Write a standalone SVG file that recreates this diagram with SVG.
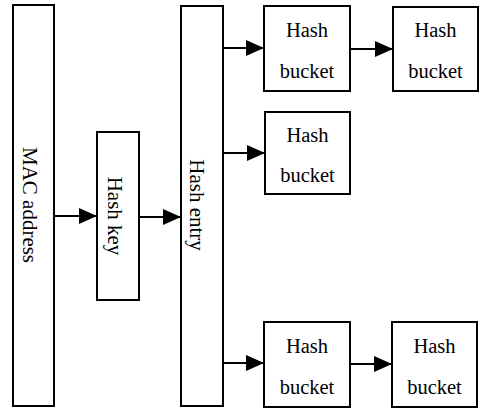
<svg xmlns="http://www.w3.org/2000/svg" width="482" height="411" viewBox="0 0 482 411">
<style>
.box{fill:#fff;stroke:#000;stroke-width:2}
.t{font-family:"Liberation Serif","Times New Roman",serif;font-size:21px;fill:#000;text-anchor:middle}
.b{font-family:"Liberation Serif","Times New Roman",serif;font-size:20.5px;fill:#000;text-anchor:middle}
.c{stroke:#000;stroke-width:2;fill:none;marker-end:url(#ah)}
</style>
<defs>
<marker id="ah" markerUnits="userSpaceOnUse" markerWidth="20" markerHeight="16" refX="18" refY="8" orient="auto">
<path d="M0,0 L18,8 L0,16 Z" fill="#000"/>
</marker>
</defs>
<rect width="482" height="411" fill="#fff"/>
<g id="mac">
<rect class="box" x="13" y="5" width="41" height="401"/>
<text class="t" transform="translate(23,205) rotate(90)">MAC address</text>
</g>
<g id="hashkey">
<rect class="box" x="97" y="132" width="42" height="168"/>
<text class="t" transform="translate(108,216) rotate(90)">Hash key</text>
</g>
<g id="hashentry">
<rect class="box" x="181" y="6" width="42" height="400"/>
<text class="t" transform="translate(190,205) rotate(90)">Hash entry</text>
</g>
<g id="bucket1">
<rect class="box" x="264" y="6" width="86" height="85"/>
<text class="b" x="307" y="37">Hash</text>
<text class="b" x="307" y="78">bucket</text>
</g>
<g id="bucket2">
<rect class="box" x="393" y="7" width="85" height="84"/>
<text class="b" x="435.5" y="37">Hash</text>
<text class="b" x="435.5" y="78">bucket</text>
</g>
<g id="bucket3">
<rect class="box" x="265" y="112" width="85" height="82"/>
<text class="b" x="307.5" y="142">Hash</text>
<text class="b" x="307.5" y="182">bucket</text>
</g>
<g id="bucket4">
<rect class="box" x="264" y="322" width="86" height="85"/>
<text class="b" x="307" y="353">Hash</text>
<text class="b" x="307" y="394">bucket</text>
</g>
<g id="bucket5">
<rect class="box" x="392" y="322" width="85" height="85"/>
<text class="b" x="434.5" y="353">Hash</text>
<text class="b" x="434.5" y="394">bucket</text>
</g>
<g id="connectors">
<line class="c" x1="54" y1="216" x2="97" y2="216"/>
<line class="c" x1="139" y1="217" x2="181" y2="217"/>
<line class="c" x1="223" y1="48" x2="264" y2="48"/>
<line class="c" x1="223" y1="153" x2="265" y2="153"/>
<line class="c" x1="223" y1="363" x2="264" y2="363"/>
<line class="c" x1="350" y1="49" x2="393" y2="49"/>
<line class="c" x1="350" y1="364" x2="392" y2="364"/>
</g>
</svg>
